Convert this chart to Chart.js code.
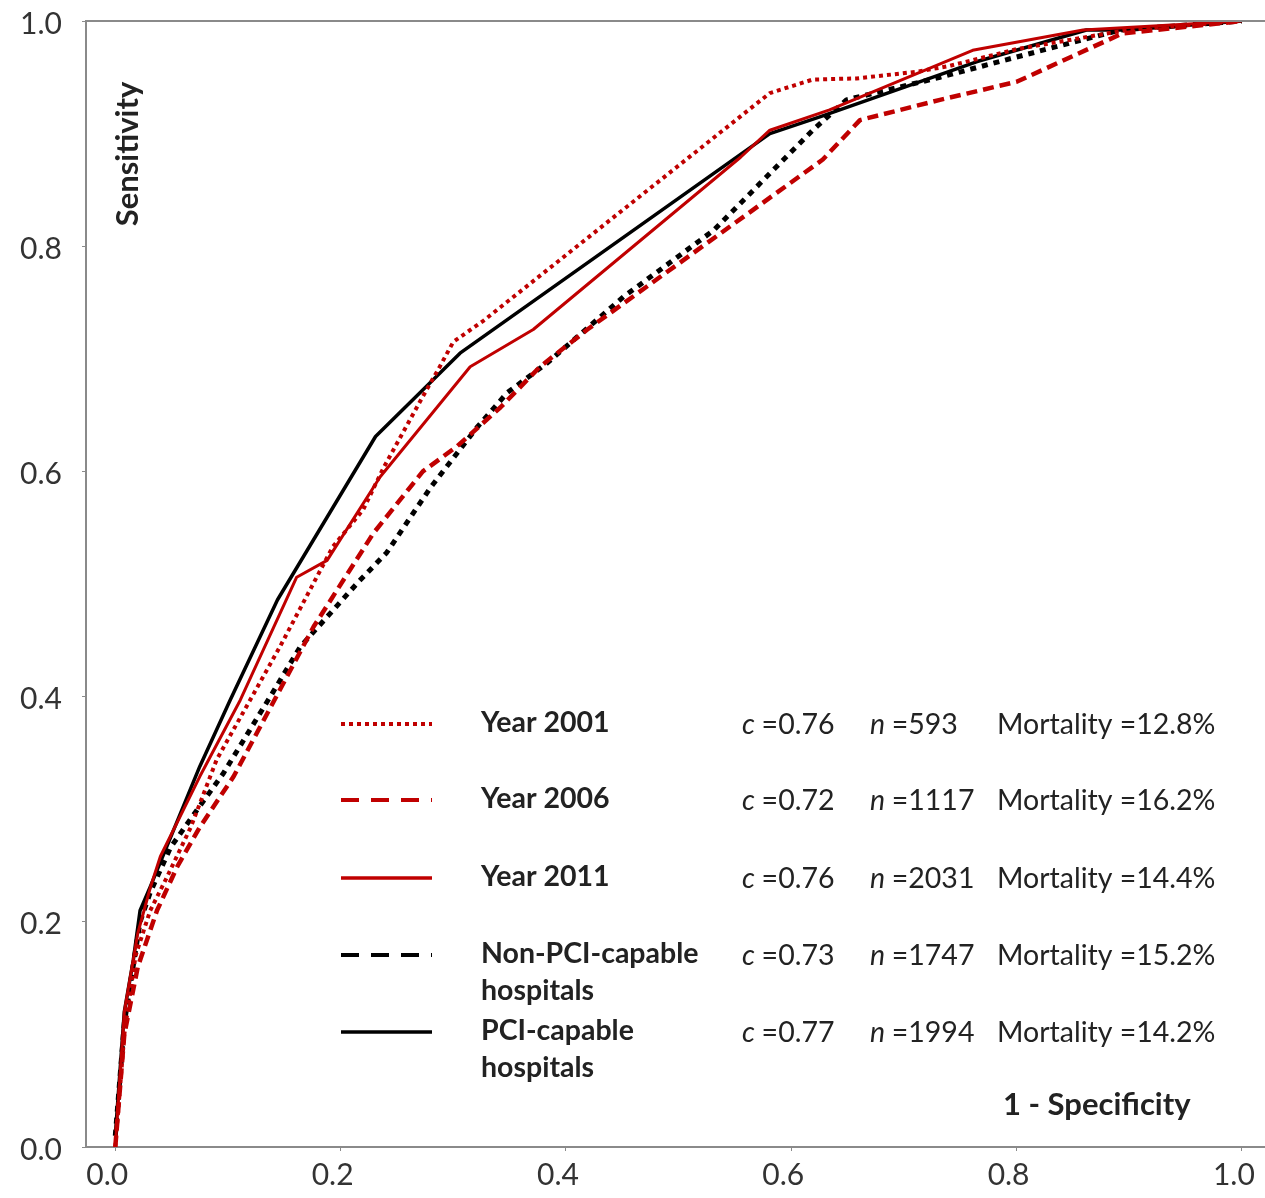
<!DOCTYPE html>
<html>
<head>
<meta charset="utf-8">
<title>ROC curves</title>
<script src="https://cdn.jsdelivr.net/npm/chart.js@4.4.0/dist/chart.umd.min.js"></script>
<style>
  html, body { margin: 0; padding: 0; background: #fff; }
  #wrap { width: 1265px; height: 1198px; }
</style>
</head>
<body>
<div id="wrap"><canvas id="roc"></canvas></div>
<script>
/* ROC curves: 1 - specificity vs sensitivity, by year and hospital type */

// tick labels
const xTicks = [0, 0.2, 0.4, 0.6, 0.8, 1.0];
const yTicks = [0, 0.2, 0.4, 0.6, 0.8, 1.0];

// Year 2001
const fpr2001 = [0, 0.008, 0.018, 0.031, 0.046, 0.067, 0.09, 0.146, 0.193, 0.22, 0.238, 0.271, 0.288, 0.30, 0.327, 0.581, 0.619, 0.658, 0.712, 0.74, 0.80, 0.898, 1.0];
const tpr2001 = [0, 0.10, 0.17, 0.21, 0.24, 0.284, 0.344, 0.444, 0.533, 0.566, 0.603, 0.663, 0.693, 0.715, 0.734, 0.936, 0.948, 0.949, 0.955, 0.96, 0.975, 0.992, 1.0];

// Year 2006
const fpr2006 = [0, 0.008, 0.02, 0.037, 0.055, 0.075, 0.105, 0.176, 0.229, 0.273, 0.303, 0.342, 0.377, 0.419, 0.628, 0.661, 0.732, 0.80, 0.894, 1.0];
const tpr2006 = [0, 0.10, 0.16, 0.21, 0.249, 0.284, 0.329, 0.462, 0.545, 0.600, 0.622, 0.657, 0.693, 0.726, 0.877, 0.912, 0.930, 0.946, 0.989, 1.0];

// Year 2011
const fpr2011 = [0, 0.008, 0.02, 0.031, 0.04, 0.075, 0.111, 0.161, 0.188, 0.235, 0.315, 0.371, 0.555, 0.581, 0.634, 0.761, 0.859, 1.0];
const tpr2011 = [0, 0.12, 0.19, 0.23, 0.258, 0.329, 0.397, 0.506, 0.521, 0.595, 0.693, 0.726, 0.879, 0.903, 0.921, 0.974, 0.992, 1.0];

// Non-PCI-capable hospitals
const fprNonPci = [0, 0.008, 0.022, 0.031, 0.049, 0.073, 0.096, 0.14, 0.164, 0.215, 0.241, 0.28, 0.321, 0.348, 0.383, 0.451, 0.531, 0.619, 0.649, 0.732, 0.80, 0.892, 1.0];
const tprNonPci = [0.01, 0.11, 0.20, 0.226, 0.266, 0.30, 0.332, 0.404, 0.444, 0.501, 0.528, 0.586, 0.639, 0.670, 0.696, 0.755, 0.814, 0.903, 0.930, 0.950, 0.968, 0.992, 1.0];

// PCI-capable hospitals
const fprPci = [0, 0.008, 0.016, 0.022, 0.031, 0.075, 0.102, 0.144, 0.231, 0.306, 0.581, 0.626, 0.765, 0.862, 0.898, 1.0];
const tprPci = [0.01, 0.12, 0.166, 0.21, 0.231, 0.338, 0.397, 0.486, 0.631, 0.705, 0.900, 0.915, 0.964, 0.992, 0.992, 1.0];

// legend text
const seriesNames = [['Year 2001'], ['Year 2006'], ['Year 2011'], ['Non-PCI-capable', 'hospitals'], ['PCI-capable', 'hospitals']];
const cStats = ['0.76', '0.72', '0.76', '0.73', '0.77'];
const nStats = ['593', '1117', '2031', '1747', '1994'];
const mortalityPct = ['12.8', '16.2', '14.4', '15.2', '14.2'];

const RED = '#C00000';
const INK = '#222';
const FONT = 'Lato, "Open Sans", sans-serif';

const toPoints = (xs, ys) => xs.map((x, i) => ({ x: x, y: ys[i] }));

function line(label, xs, ys, color, width, dash, legendDash) {
  return {
    label: label,
    data: toPoints(xs, ys),
    borderColor: color,
    borderWidth: width,
    borderDash: dash,
    legendDash: legendDash,
    borderCapStyle: 'butt',
    borderJoinStyle: 'round',
    pointRadius: 0,
    tension: 0,
    fill: false
  };
}

const datasets = [
  line('Year 2001', fpr2001, tpr2001, RED, 4, [4, 4], [4, 4]),
  line('Year 2006', fpr2006, tpr2006, RED, 4.5, [11, 6], [18, 12]),
  line('Year 2011', fpr2011, tpr2011, RED, 3, [], []),
  line('Non-PCI-capable hospitals', fprNonPci, tprNonPci, '#000', 5, [6, 6], [18, 12]),
  line('PCI-capable hospitals', fprPci, tprPci, '#000', 3.5, [], [])
];

// legend block, axis titles and the top frame line
const annotations = {
  id: 'annotations',
  afterDraw(chart) {
    const ctx = chart.ctx;
    const area = chart.chartArea;
    const rowsY = [724, 800, 878, 955, 1032];
    ctx.save();

    // top frame line and axis run-out to the right edge
    ctx.strokeStyle = '#8a8a8a';
    ctx.lineWidth = 2;
    ctx.beginPath();
    ctx.moveTo(area.left, area.top);
    ctx.lineTo(chart.width, area.top);
    ctx.moveTo(area.right, area.bottom);
    ctx.lineTo(chart.width, area.bottom);
    ctx.stroke();

    // legend samples and stats
    chart.data.datasets.forEach((ds, i) => {
      const y = rowsY[i];
      ctx.strokeStyle = ds.borderColor;
      ctx.lineWidth = ds.borderWidth < 4 ? 3.5 : 4;
      ctx.setLineDash(ds.legendDash);
      ctx.lineCap = 'butt';
      ctx.beginPath();
      ctx.moveTo(341, y);
      ctx.lineTo(432, y);
      ctx.stroke();
      ctx.setLineDash([]);

      ctx.fillStyle = INK;
      ctx.textBaseline = 'middle';
      ctx.textAlign = 'left';
      ctx.font = 'bold 28.5px ' + FONT;
      seriesNames[i].forEach((t, k) => ctx.fillText(t, 481, y - 1 + k * 37));

      let x = 742;
      ctx.font = 'italic 28.5px ' + FONT;
      ctx.fillText('c', x, y + 1);
      x += ctx.measureText('c ').width;
      ctx.font = '28.5px ' + FONT;
      ctx.fillText('=' + cStats[i], x, y + 1);

      x = 870;
      ctx.font = 'italic 28.5px ' + FONT;
      ctx.fillText('n', x, y + 1);
      x += ctx.measureText('n ').width;
      ctx.font = '28.5px ' + FONT;
      ctx.fillText('=' + nStats[i], x, y + 1);

      ctx.fillText('Mortality =' + mortalityPct[i] + '%', 997, y + 1);
    });

    // axis titles inside the plot
    ctx.font = 'bold 31px ' + FONT;
    ctx.fillStyle = INK;
    ctx.textAlign = 'left';
    ctx.fillText('1 - Specificity', 1003, 1105);

    ctx.translate(128, 154);
    ctx.rotate(-Math.PI / 2);
    ctx.textAlign = 'center';
    ctx.fillText('Sensitivity', 0, 0);
    ctx.restore();
  }
};

const axisStyle = {
  border: { display: true, color: '#8a8a8a', width: 2 },
  grid: { display: true, drawOnChartArea: false, drawTicks: true, tickLength: 4, color: '#8a8a8a' },
};

new Chart(document.getElementById('roc'), {
  type: 'line',
  data: { datasets: datasets },
  options: {
    responsive: true,
    maintainAspectRatio: false,
    animation: false,
    devicePixelRatio: 1,
    layout: { padding: { top: 21, right: 0, left: 0, bottom: 0 } },
    plugins: { legend: { display: false }, tooltip: { enabled: false } },
    scales: {
      x: {
        type: 'linear',
        min: -0.026,
        max: 1.0205,
        border: axisStyle.border,
        grid: axisStyle.grid,
        afterBuildTicks: s => { s.ticks = xTicks.map(v => ({ value: v })); },
        afterFit: s => { s.height = 51; s.paddingLeft = 0; s.paddingRight = 0; },
        ticks: {
          color: '#333',
          font: { family: FONT, size: 30 },
          padding: 6,
          labelOffset: -8,
          maxRotation: 0,
          callback: v => v.toFixed(1)
        }
      },
      y: {
        type: 'linear',
        min: 0,
        max: 1,
        border: axisStyle.border,
        grid: axisStyle.grid,
        afterBuildTicks: s => { s.ticks = yTicks.map(v => ({ value: v })); },
        afterFit: s => { s.width = 86; s.paddingTop = 0; s.paddingBottom = 0; },
        ticks: {
          color: '#333',
          font: { family: FONT, size: 30 },
          padding: 20,
          labelOffset: 3,
          callback: v => v.toFixed(1)
        }
      }
    }
  },
  plugins: [annotations]
});
</script>
</body>
</html>
